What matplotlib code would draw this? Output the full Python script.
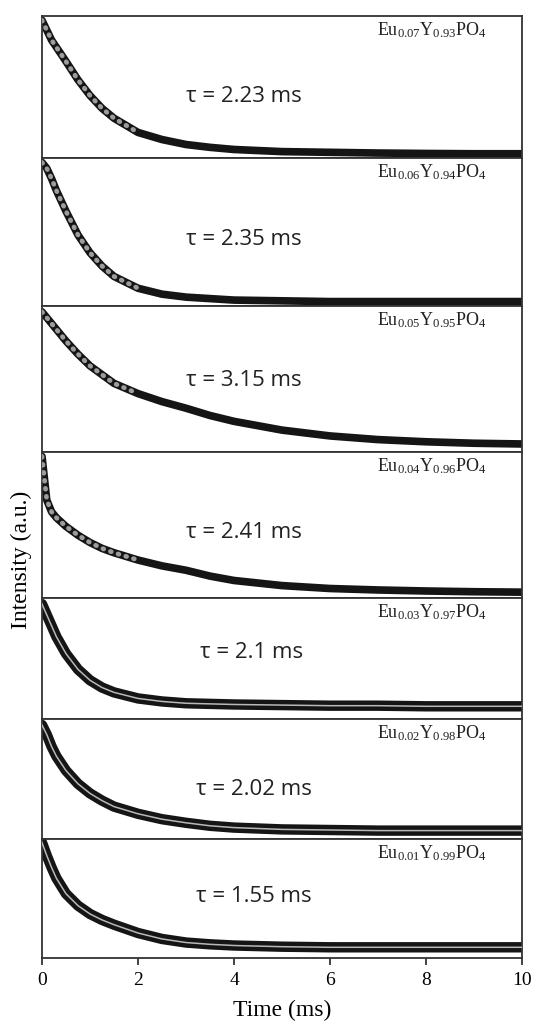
import numpy as np
import matplotlib
matplotlib.use("Agg")
from matplotlib import pyplot as plt

t = [0, 0.1, 0.2, 0.3, 0.5, 0.75, 1.0, 1.25, 1.5, 2.0, 2.5, 3.0, 3.5, 4.0,
     5.0, 6.0, 7.0, 8.0, 9.0, 10.0]

# normalised intensity per panel (top panel first)
eu007 = [0.97, 0.90, 0.83, 0.78, 0.68, 0.55, 0.44, 0.35, 0.28, 0.18, 0.13,
         0.095, 0.075, 0.06, 0.045, 0.04, 0.035, 0.032, 0.03, 0.03]
eu006 = [0.97, 0.93, 0.86, 0.78, 0.64, 0.48, 0.36, 0.27, 0.20, 0.12, 0.08,
         0.06, 0.05, 0.04, 0.035, 0.03, 0.03, 0.03, 0.03, 0.03]
eu005 = [0.96, 0.92, 0.88, 0.84, 0.76, 0.67, 0.59, 0.53, 0.47, 0.40, 0.345,
         0.30, 0.25, 0.21, 0.15, 0.11, 0.085, 0.07, 0.06, 0.055]
eu004 = [0.97, 0.67, 0.59, 0.55, 0.49, 0.43, 0.38, 0.34, 0.31, 0.26, 0.22,
         0.19, 0.15, 0.12, 0.085, 0.065, 0.055, 0.048, 0.043, 0.04]
eu003 = [0.95, 0.86, 0.77, 0.68, 0.54, 0.41, 0.32, 0.26, 0.22, 0.17, 0.145,
         0.13, 0.125, 0.12, 0.115, 0.11, 0.11, 0.105, 0.105, 0.105]
eu002 = [0.95, 0.87, 0.77, 0.69, 0.57, 0.46, 0.38, 0.32, 0.27, 0.21, 0.165,
         0.135, 0.11, 0.095, 0.08, 0.075, 0.07, 0.07, 0.07, 0.07]
eu001 = [0.97, 0.86, 0.76, 0.67, 0.54, 0.44, 0.37, 0.32, 0.28, 0.21, 0.16,
         0.13, 0.115, 0.105, 0.095, 0.09, 0.09, 0.09, 0.09, 0.09]

series = [eu007, eu006, eu005, eu004, eu003, eu002, eu001]
labels = [r"Eu$_{0.07}$Y$_{0.93}$PO$_{4}$", r"Eu$_{0.06}$Y$_{0.94}$PO$_{4}$",
          r"Eu$_{0.05}$Y$_{0.95}$PO$_{4}$", r"Eu$_{0.04}$Y$_{0.96}$PO$_{4}$",
          r"Eu$_{0.03}$Y$_{0.97}$PO$_{4}$", r"Eu$_{0.02}$Y$_{0.98}$PO$_{4}$",
          r"Eu$_{0.01}$Y$_{0.99}$PO$_{4}$"]
taus = ["2.23", "2.35", "3.15", "2.41", "2.1", "2.02", "1.55"]
xticks = [0, 2, 4, 6, 8, 10]

plt.rcParams["mathtext.default"] = "regular"
serif = "Liberation Serif"

W, H = 536, 1024
fig = plt.figure(figsize=(W / 100, H / 100), dpi=100)

# panel borders in pixels from the top
edges = [16, 158, 306, 452, 598, 719, 839, 958]
x0, x1 = 42, 522
tau_x = [3.0, 3.0, 3.0, 3.0, 3.3, 3.2, 3.2]
tau_y = [0.43, 0.45, 0.49, 0.45, 0.55, 0.41, 0.52]

for i, y in enumerate(series):
    top, bot = edges[i], edges[i + 1]
    hpx = bot - top
    ax = fig.add_axes([x0 / W, 1 - bot / H, (x1 - x0) / W, hpx / H])
    ax.set_xlim(0, 10)
    ax.set_ylim(0, 1)
    # data band + fit line
    if i < 4:
        ax.plot(t, y, color="#151515", lw=5.5, solid_capstyle="round", zorder=2)
        ax.plot(t[:10], y[:10], color="#9c9c9c", lw=3.4, ls=(0, (0.2, 1.5)),
                dash_capstyle="round", zorder=3)
    else:
        ax.plot(t, y, color="#151515", lw=7.5, solid_capstyle="round", zorder=2)
        ax.plot(t, y, color="#b8b8b8", lw=1.1, zorder=3)
    ax.text(0.927, 1 - 14.5 / hpx, labels[i], transform=ax.transAxes,
            ha="right", va="center", fontsize=13, family=serif,
            color="#222222")
    ax.text(tau_x[i], tau_y[i], "\u03c4 = " + taus[i] + " ms",
            ha="left", va="center", fontsize=16, family="Open Sans",
            color="#222222")
    ax.set_yticks([])
    for s in ax.spines.values():
        s.set_color("#333333")
        s.set_linewidth(1.3)
    if i < len(series) - 1:
        ax.set_xticks([])
    else:
        ax.set_xticks(xticks)
        ax.set_xticklabels([str(v) for v in xticks], family=serif, fontsize=14)
        ax.tick_params(axis="x", direction="out", length=5, width=1.3,
                       color="#333333", pad=5)
        ax.set_xlabel("Time (ms)", family=serif, fontsize=17, labelpad=8)

fig.text(21 / W, 1 - 560 / H, "Intensity (a.u.)", rotation=90, ha="center",
         va="center", family=serif, fontsize=17)

fig.savefig("out.png", dpi=100)
